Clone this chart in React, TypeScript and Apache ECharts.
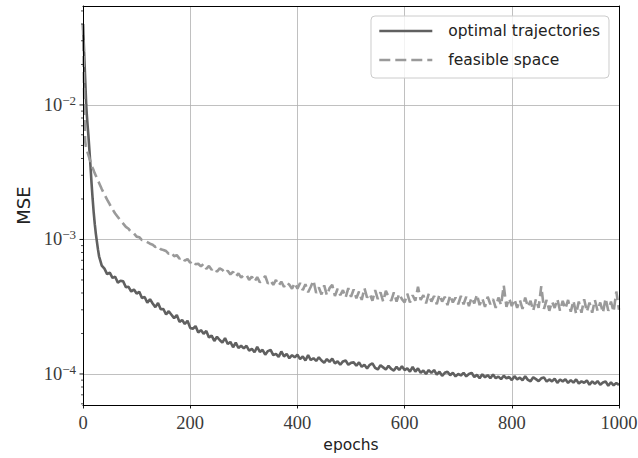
import React, { useEffect, useRef } from "react";
import * as echarts from "echarts";

// Training epochs at which the losses are plotted
const epochs = [
  0, 1, 2, 3, 4, 5, 6, 7, 8, 9, 10, 12, 14, 16, 18, 20, 22, 24, 26, 28, 30,
  35, 40, 45, 50, 55, 60, 65, 70, 75, 80, 85, 90, 95, 100,
  105, 110, 115, 120, 125, 130, 135, 140, 145, 150, 155, 160, 165, 170, 175, 180, 185, 190, 195, 200,
  205, 210, 215, 220, 225, 230, 235, 240, 245, 250, 255, 260, 265, 270, 275, 280, 285, 290, 295, 300,
  305, 310, 315, 320, 325, 330, 335, 340, 345, 350, 355, 360, 365, 370, 375, 380, 385, 390, 395, 400,
  405, 410, 415, 420, 425, 430, 435, 440, 445, 450, 455, 460, 465, 470, 475, 480, 485, 490, 495, 500,
  505, 510, 515, 520, 525, 530, 535, 540, 545, 550, 555, 560, 565, 570, 575, 580, 585, 590, 595, 600,
  605, 610, 615, 620, 625, 630, 635, 640, 645, 650, 655, 660, 665, 670, 675, 680, 685, 690, 695, 700,
  705, 710, 715, 720, 725, 730, 735, 740, 745, 750, 755, 760, 765, 770, 775, 780, 785, 790, 795, 800,
  805, 810, 815, 820, 825, 830, 835, 840, 845, 850, 855, 860, 865, 870, 875, 880, 885, 890, 895, 900,
  905, 910, 915, 920, 925, 930, 935, 940, 945, 950, 955, 960, 965, 970, 975, 980, 985, 990, 995, 1000,
];

// MSE of "optimal trajectories", in units of 1e-4
const optimalE4 = [
  400, 320, 250, 200, 158, 126, 100, 86, 76, 67, 60, 46, 35, 26, 20, 15.8, 13.0, 11.0, 9.6, 8.4, 7.5,
  6.40, 6.07, 5.52, 5.67, 5.18, 5.28, 4.78, 4.93, 4.88, 4.41, 4.45, 4.10, 4.25, 3.96,
  4.08, 3.67, 3.74, 3.38, 3.60, 3.34, 3.14, 3.37, 3.03, 3.04, 2.77, 2.93, 2.76, 2.60, 2.74, 2.44, 2.52, 2.35, 2.49, 2.20,
  2.17, 2.27, 2.03, 2.12, 1.99, 2.09, 1.87, 1.93, 1.76, 1.89, 1.79, 1.71, 1.85, 1.67, 1.73, 1.58, 1.71, 1.56, 1.62, 1.55,
  1.62, 1.49, 1.54, 1.45, 1.59, 1.46, 1.51, 1.39, 1.48, 1.51, 1.38, 1.41, 1.34, 1.47, 1.35, 1.41, 1.31, 1.38, 1.33, 1.39,
  1.29, 1.35, 1.26, 1.38, 1.27, 1.31, 1.25, 1.33, 1.26, 1.21, 1.29, 1.23, 1.30, 1.20, 1.24, 1.17, 1.24, 1.26, 1.17, 1.21,
  1.22, 1.15, 1.22, 1.13, 1.17, 1.10, 1.17, 1.20, 1.11, 1.08, 1.16, 1.12, 1.08, 1.15, 1.09, 1.06, 1.13, 1.07, 1.14, 1.07,
  1.10, 1.04, 1.13, 1.04, 1.10, 1.02, 1.06, 1.00, 1.07, 1.02, 1.07, 0.99, 1.04, 0.97, 1.02, 1.04, 0.98, 1.02, 0.96, 1.00,
  0.975, 1.02, 0.96, 1.00, 1.02, 0.95, 0.985, 0.93, 0.995, 0.945, 0.98, 0.93, 0.99, 0.93, 0.955, 0.915, 0.97, 0.93, 0.95, 0.90,
  0.963, 0.913, 0.939, 0.899, 0.962, 0.904, 0.883, 0.945, 0.915, 0.885, 0.928, 0.943, 0.878, 0.911, 0.882, 0.924, 0.859, 0.91, 0.881, 0.914,
  0.858, 0.90, 0.862, 0.912, 0.849, 0.881, 0.861, 0.894, 0.831, 0.881, 0.845, 0.886, 0.832, 0.865, 0.88, 0.818, 0.867, 0.824, 0.856, 0.83,
];

// MSE of "feasible space", in units of 1e-4
const feasibleE4 = [
  400, 240, 130, 75, 54, 50, 48, 46.5, 45, 43.7, 42.5, 40, 38, 36, 34, 32.5, 31, 29.8, 28.6, 27.4, 26.3,
  23.7, 21.6, 19.8, 18.2, 16.8, 15.6, 14.7, 13.8, 13.1, 12.4, 12.0, 11.3, 11.1, 10.5,
  10.4, 9.9, 9.85, 9.55, 9.30, 9.15, 8.80, 8.95, 8.45, 8.35, 8.20, 7.80, 8.00, 7.50, 7.65, 7.20, 7.40, 6.95, 7.15, 6.70,
  6.95, 6.55, 6.60, 6.30, 6.60, 6.05, 6.35, 5.95, 6.15, 5.75, 6.10, 5.95, 5.60, 5.85, 5.50, 5.75, 5.30, 5.60, 5.20, 5.45,
  5.45, 5.00, 5.30, 4.85, 5.25, 4.80, 5.05, 5.35, 4.70, 4.95, 4.60, 5.00, 4.55, 4.85, 4.45, 4.80, 4.60, 4.30, 4.75, 4.30,
  4.75, 4.20, 4.65, 4.05, 4.45, 4.95, 4.00, 4.40, 3.90, 4.55, 3.85, 4.35, 4.60, 3.80, 4.30, 3.85, 4.20, 3.70, 4.35, 3.75,
  4.25, 3.65, 4.10, 3.55, 4.35, 3.70, 3.95, 3.50, 4.20, 3.60, 4.05, 3.45, 4.15, 3.75, 3.50, 4.05, 3.45, 3.95, 3.60, 3.40,
  3.95, 3.40, 3.85, 3.50, 4.45, 3.55, 3.85, 3.35, 3.95, 3.45, 3.80, 3.30, 3.90, 3.45, 3.75, 3.25, 3.85, 3.40, 3.70, 3.30,
  3.80, 3.30, 3.75, 3.20, 3.70, 3.35, 3.90, 3.25, 3.65, 3.15, 3.75, 3.30, 3.60, 3.10, 3.70, 3.25, 4.55, 3.15, 3.65, 3.20,
  3.60, 3.10, 3.55, 3.05, 3.70, 3.15, 3.50, 2.95, 3.60, 3.10, 4.50, 3.05, 3.55, 2.95, 3.45, 3.10, 3.60, 2.95, 3.50, 3.05,
  3.55, 2.90, 3.50, 2.80, 3.45, 2.85, 3.60, 2.90, 3.40, 2.85, 3.55, 2.95, 3.40, 2.85, 3.65, 2.95, 3.45, 2.90, 4.10, 3.00,
];

const seriesNames = ["optimal trajectories", "feasible space"];

// Log-axis tick values (matplotlib style: majors at decades, minors at 2..9)
const yMajorTicks = [1e-4, 1e-3, 1e-2];
const yMinorTicks = [
  6e-5, 7e-5, 8e-5, 9e-5,
  2e-4, 3e-4, 4e-4, 5e-4, 6e-4, 7e-4, 8e-4, 9e-4,
  2e-3, 3e-3, 4e-3, 5e-3, 6e-3, 7e-3, 8e-3, 9e-3,
  2e-2, 3e-2, 4e-2, 5e-2,
];

const SERIF = "'Liberation Serif', 'DejaVu Serif', serif";
const SANS = "'DejaVu Sans', 'Noto Sans', sans-serif";

export default function App() {
  const ref = useRef<HTMLDivElement>(null);

  useEffect(() => {
    if (!ref.current) return;
    const chart = echarts.init(ref.current, undefined, { renderer: "svg" });

    const optimal = epochs.map((e, i) => [e, optimalE4[i] * 1e-4]);
    const feasible = epochs.map((e, i) => [e, feasibleE4[i] * 1e-4]);
    const tickData = [
      ...yMajorTicks.map((v) => [0, v, 3.5, 0.9]),
      ...yMinorTicks.map((v) => [0, v, 2, 0.7]),
    ];

    const spine = (extra: any) => ({
      type: "value",
      min: 0,
      max: 1,
      z: 10,
      axisLine: { show: true, onZero: false, lineStyle: { color: "#000", width: 1 } },
      axisTick: { show: false },
      axisLabel: { show: false },
      splitLine: { show: false },
      ...extra,
    });

    chart.setOption({
      animation: false,
      backgroundColor: "#fff",
      grid: {
        left: 83,
        right: 19,
        top: 6,
        bottom: 53,
        containLabel: false,
        outerBoundsMode: "none",
      },
      legend: {
        data: seriesNames,
        orient: "vertical",
        right: 29,
        top: 16,
        itemWidth: 53,
        itemHeight: 18,
        itemGap: 11,
        padding: [6, 9, 9, 7],
        borderColor: "#cccccc",
        borderWidth: 1,
        borderRadius: 4,
        backgroundColor: "rgba(255,255,255,0.8)",
        itemStyle: { opacity: 0, borderWidth: 0 },
        lineStyle: { width: 2.6 },
        textStyle: {
          fontFamily: SANS,
          fontSize: 15.5,
          color: "#222",
          lineHeight: 18,
          padding: [0, 0, 0, 11],
        },
      },
      xAxis: [
        {
          type: "value",
          min: 0,
          max: 1000,
          interval: 200,
          name: "epochs",
          nameLocation: "middle",
          nameGap: 31,
          nameTextStyle: { fontFamily: SANS, fontSize: 15.5, color: "#222" },
          axisLine: { show: false, onZero: false },
          axisTick: { show: true, length: 3.5, lineStyle: { color: "#000", width: 0.9 } },
          axisLabel: {
            fontFamily: SERIF,
            fontSize: 18.5,
            color: "#3a3a3a",
            margin: 8,
            formatter: (v: number) => String(v),
          },
          splitLine: { show: true, lineStyle: { color: "#b0b0b0", width: 0.8 } },
        },
        spine({ position: "top" }),
        spine({ position: "bottom" }),
      ],
      yAxis: [
        {
          type: "log",
          logBase: 10,
          min: 5.88e-5,
          max: 0.0544,
          name: "MSE",
          nameLocation: "middle",
          nameRotate: 90,
          nameGap: 51,
          nameTextStyle: { fontFamily: SANS, fontSize: 18, color: "#222" },
          axisLine: { show: false, onZero: false },
          axisTick: { show: false },
          axisLabel: {
            margin: 7,
            showMinLabel: false,
            showMaxLabel: false,
            formatter: (v: number) => `{b|10}{s|\u2212${Math.abs(Math.round(Math.log10(v)))}}`,
            rich: {
              b: { fontFamily: SERIF, fontSize: 18.5, color: "#3a3a3a", lineHeight: 22 },
              s: { fontFamily: SERIF, fontSize: 13, color: "#3a3a3a", lineHeight: 12, verticalAlign: "top" },
            },
          },
          splitLine: { show: true, lineStyle: { color: "#b0b0b0", width: 0.8 } },
        },
        spine({ position: "right" }),
        spine({ position: "left" }),
      ],
      series: [
        {
          name: seriesNames[0],
          type: "line",
          data: optimal,
          symbol: "none",
          color: "#606060",
          lineStyle: { color: "#606060", width: 2.6 },
          z: 3,
        },
        {
          name: seriesNames[1],
          type: "line",
          data: feasible,
          symbol: "none",
          color: "#9a9a9a",
          lineStyle: { color: "#9a9a9a", width: 2.6, type: [11, 5] },
          z: 4,
        },
        {
          type: "custom",
          clip: false,
          silent: true,
          data: tickData,
          z: 12,
          renderItem: (_params: any, api: any) => {
            const p = api.coord([api.value(0), api.value(1)]);
            const len = api.value(2);
            return {
              type: "line",
              shape: { x1: p[0] - len, y1: p[1], x2: p[0], y2: p[1] },
              style: { stroke: "#000", lineWidth: api.value(3) },
            };
          },
        },
      ],
    });

    return () => chart.dispose();
  }, []);

  return (
    <div
      ref={ref}
      style={{ position: "fixed", left: 0, top: 0, width: 638, height: 458 }}
    />
  );
}
